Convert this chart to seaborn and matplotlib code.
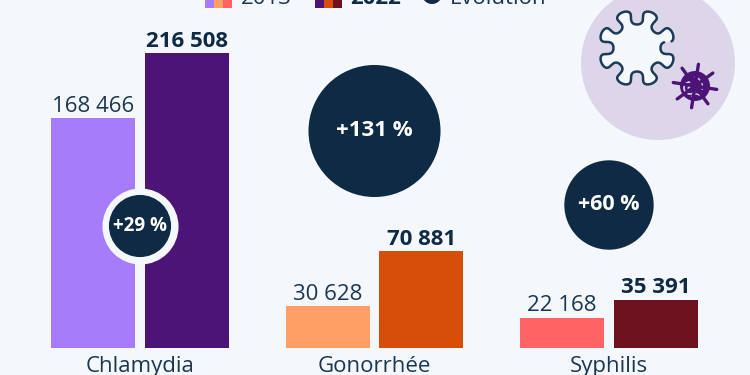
import numpy as np
import pandas as pd
import matplotlib
matplotlib.use('Agg')
import matplotlib.pyplot as plt
from matplotlib.patches import Arc, Circle, Rectangle
import seaborn as sns

# Data
diseases = ['Chlamydia', 'Gonorrhée', 'Syphilis']
years = ['2013', '2022']
cases_2013 = [168466, 30628, 22168]
cases_2022 = [216508, 70881, 35391]
evolution = [29, 131, 60]
evolution_labels = ['+29 %', '+131 %', '+60 %']

# Colours
BG = '#f4f8fc'
NAVY = '#0f2a44'
TEXT = '#1b3650'
LILAC = '#ddd5ea'
PURPLE = '#4d1477'
colors_2013 = ['#a67cfb', '#ff9f66', '#ff6464']
colors_2022 = [PURPLE, '#d74d0a', '#6e1220']

sns.set_style('white')
plt.rcParams['font.family'] = ['Open Sans', 'DejaVu Sans']

df = pd.DataFrame({
    'disease': diseases * 2,
    'year': [years[0]] * 3 + [years[1]] * 3,
    'cases': cases_2013 + cases_2022,
})

fig = plt.figure(figsize=(7.5, 3.75), dpi=100, facecolor=BG)
ax = fig.add_axes([0, 0, 1, 1], facecolor='none')

sns.barplot(data=df, x='disease', y='cases', hue='year', width=0.8, gap=0.106,
            legend=False, ax=ax, saturation=1, linewidth=0)

# one colour per bar, and the value on top
for cont, cols, weight in zip(ax.containers, [colors_2013, colors_2022], ['normal', 'bold']):
    for bar, c in zip(cont, cols):
        bar.set_facecolor(c)
    ax.bar_label(cont, labels=[f'{v:,.0f}'.replace(',', ' ') for v in cont.datavalues],
                 padding=1, fontsize=16, fontweight=weight,
                 color=NAVY if weight == 'bold' else TEXT)

# scale: 1 category = 234.5 px, baseline at y=348 px
ax.set_xlim(-140 / 234.5, 610 / 234.5)
ax.set_ylim(-27 * 734, 348 * 734)
ax.set_xlabel('')
ax.set_ylabel('')
ax.set_yticks([])
ax.tick_params(axis='x', length=0, pad=-13.5, labelsize=16, labelcolor=TEXT)
sns.despine(ax=ax, left=True, bottom=True)

# evolution bubbles, area follows the value
bubble_height = [1 - 226 / 375, 1 - 131 / 375, 1 - 205 / 375]
bubble_font = [13.5, 16, 15.5]
trans = ax.get_xaxis_transform()
ax.scatter([0], bubble_height[:1], s=69 * evolution[0] * 1.5, color=BG, linewidths=0,
           transform=trans, zorder=4)
ax.scatter(range(3), bubble_height, s=[69 * v for v in evolution], color=NAVY,
           transform=trans, zorder=5, linewidths=0)
for i, lab in enumerate(evolution_labels):
    ax.text(i, bubble_height[i], lab, transform=trans, ha='center', va='center',
            color='white', fontsize=bubble_font[i], fontweight='bold', zorder=6)

# overlay in pixel coordinates for legend and icon
ov = fig.add_axes([0, 0, 1, 1], facecolor='none')
ov.set_xlim(0, 750)
ov.set_ylim(375, 0)
ov.axis('off')

# legend, cut off by the top edge
for i, c in enumerate(colors_2013):
    ov.add_patch(Rectangle((205 + 9 * i, -10), 8.6, 18, color=c, lw=0))
for i, c in enumerate(colors_2022):
    ov.add_patch(Rectangle((315 + 9 * i, -10), 8.6, 18, color=c, lw=0))
ov.add_patch(Circle((432, -6), 10, color=NAVY, lw=0))
ov.text(241, 4, years[0], fontsize=16, color=TEXT, va='baseline')
ov.text(350, 4, years[1], fontsize=16, color=NAVY, va='baseline', fontweight='bold')
ov.text(450, 4, 'Évolution', fontsize=16, color=TEXT, va='baseline')

# virus icon
ov.add_patch(Circle((658, 63), 77, color=LILAC, lw=0))
t = np.linspace(0.27, 2 * np.pi + 0.14, 900)
phase = 8 * (t - np.pi / 8)
rad = 31 + 7.5 * np.cos(phase)
ang = t + 0.085 * np.sin(2 * phase)
vx = 637 + rad * np.cos(ang)
vy = 48 - rad * np.sin(ang)
ov.fill(vx, vy, color=BG, lw=0)
ov.plot(vx, vy, color='#1c3b57', lw=1.8)

cx, cy = 695, 86
for a in np.deg2rad(np.arange(8) * 45 - 81):
    ov.plot([cx, cx + 22 * np.cos(a)], [cy, cy + 22 * np.sin(a)], color=PURPLE, lw=2.4,
            solid_capstyle='round')
ov.add_patch(Circle((cx, cy), 15, color=PURPLE, lw=0))
ov.add_patch(Circle((cx - 5, cy + 2), 6, fill=False, ec=LILAC, lw=1.2))
ov.add_patch(Circle((cx - 5, cy + 2), 2.5, color=LILAC, lw=0))
ov.add_patch(Arc((cx - 3, cy + 1), 21, 21, theta1=-75, theta2=15, ec=LILAC, lw=1))
ov.add_patch(Arc((cx + 1, cy + 11), 8, 6, theta1=180, theta2=340, ec=LILAC, lw=1))

fig.savefig('out.png', dpi=100, facecolor=BG)
